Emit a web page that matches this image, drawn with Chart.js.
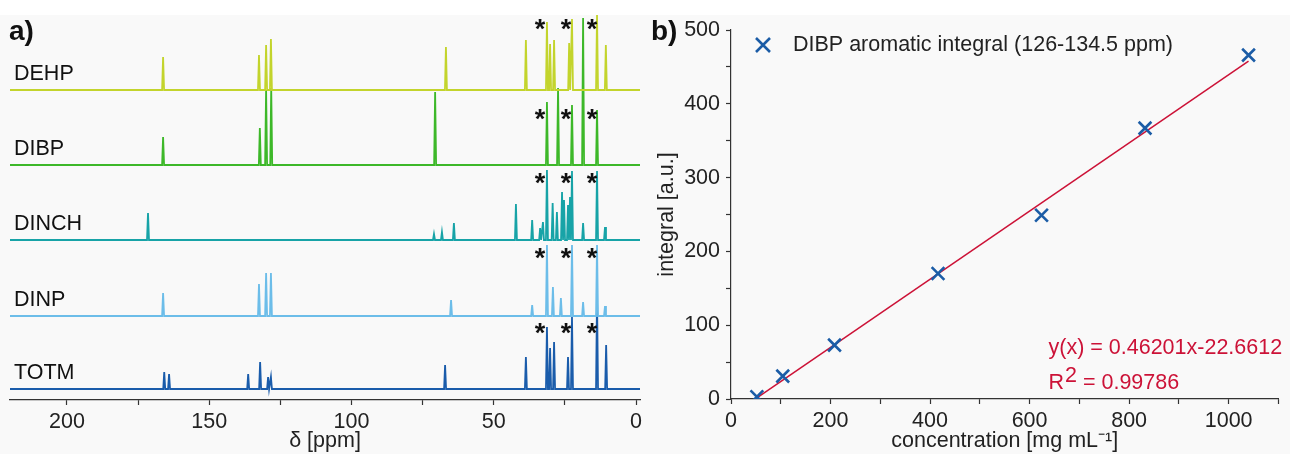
<!DOCTYPE html>
<html>
<head>
<meta charset="utf-8">
<script src="https://cdn.jsdelivr.net/npm/chart.js@4"></script>
<style>
  body { margin: 0; width: 1290px; height: 454px; background: #f9f9f9; position: relative; overflow: hidden;
         font-family: Arial, "Liberation Sans", sans-serif; }
  #strip { position: absolute; left: 0; top: 0; width: 1290px; height: 15px; background: #fff; }
  canvas { position: absolute; top: 0; }
  #specChart { left: 0; }
  #calChart { left: 650px; }
  .tag { position: absolute; font-weight: bold; font-size: 28px; color: #111; line-height: 1; }
</style>
</head>
<body>
<div id="strip"></div>
<canvas id="specChart" width="650" height="454"></canvas>
<canvas id="calChart" width="640" height="454"></canvas>
<div class="tag" style="left:9px;top:17px">a)</div>
<div class="tag" style="left:651px;top:17px">b)</div>
<script>
// ---- panel a: 13C NMR spectra, peaks as [ppm, height] ----
const ppmMin = -1.4, ppmMax = 220;
const compounds = ['DEHP', 'DIBP', 'DINCH', 'DINP', 'TOTM'];
const peaksDEHP = [[166.2, 33], [132.5, 35], [130, 45], [128.3, 51], [66.8, 43], [38.7, 50], [31.3, 68],
  [30.2, 46], [28.8, 50], [23.5, 47], [22.5, 71], [13.7, 75], [10.6, 45]];
const peaksDIBP = [[166.2, 28], [132.2, 37], [130, 75], [128.2, 77], [70.6, 73], [31.3, 63], [27.4, 77],
  [22.5, 60], [18.6, 147], [13.7, 55]];
const peaksDINCH = [[171.5, 27], [71, 6], [68.2, 8], [64, 17], [42.2, 36], [36.5, 20], [33.7, 12], [32.7, 18],
  [31.3, 70], [29.3, 37], [27.8, 28], [26, 48], [25.3, 40], [23.9, 35], [23.2, 43], [22.5, 69], [18.6, 17],
  [13.7, 69], [10.9, 13]];
const peaksDINP = [[166.2, 23], [132.5, 32], [130, 43], [128.3, 43], [65, 16], [36.5, 11], [31.3, 71],
  [29.2, 29], [26.4, 18], [22.5, 71], [18.6, 14], [13.7, 71], [10.9, 10]];
const peaksTOTM = [[165.8, 17], [164.1, 15], [136.3, 15], [132.1, 27], [129.3, 12], [128.3, 12], [67.1, 24],
  [38.7, 32], [31.3, 62], [30.2, 41], [28.8, 47], [23.9, 32], [22.5, 72], [13.7, 92], [10.5, 44]];
const starPpm = [33.7, 24.6, 15.5];

// ---- panel b: calibration ----
const concentration = [52, 104, 208, 416, 624, 832, 1040];
const integral = [3, 31, 73, 170, 249, 367, 466];
const fitX = [52, 1040];
const fitY = [1.4, 457.8];

// layout / styling
const FONT = 'Arial, "Liberation Sans", sans-serif';
const FS = 21.5;
const traceStyle = {
  DEHP:  { peaks: peaksDEHP,  off: 310, color: '#c3d42c', star: 68 },
  DIBP:  { peaks: peaksDIBP,  off: 235, color: '#3db829', star: 53 },
  DINCH: { peaks: peaksDINCH, off: 160, color: '#17a3a7', star: 64 },
  DINP:  { peaks: peaksDINP,  off: 84,  color: '#6cbde9', star: 65 },
  TOTM:  { peaks: peaksTOTM,  off: 11,  color: '#1a5cab', star: 63 }
};

function spectrum(peaks, off) {
  const pts = [{ x: ppmMax, y: off }];
  peaks.slice().sort((a, b) => b[0] - a[0]).forEach(([p, h]) => {
    pts.push({ x: p + 0.35, y: off }, { x: p, y: off + h }, { x: p - 0.35, y: off });
  });
  pts.push({ x: ppmMin, y: off });
  return pts;
}

const specLabels = {
  id: 'specLabels',
  afterDatasetsDraw(chart) {
    const { ctx, chartArea, scales } = chart;
    ctx.save();
    compounds.forEach(name => {
      const t = traceStyle[name];
      ctx.fillStyle = '#111';
      ctx.font = FS + 'px ' + FONT;
      ctx.textAlign = 'left';
      ctx.textBaseline = 'middle';
      ctx.fillText(name, chartArea.left + 4, scales.y.getPixelForValue(t.off + 16));
      ctx.font = 'bold 27px ' + FONT;
      ctx.textAlign = 'center';
      ctx.textBaseline = 'alphabetic';
      starPpm.forEach(p => {
        ctx.fillText('*', scales.x.getPixelForValue(p), scales.y.getPixelForValue(t.off + t.star) + 16);
      });
    });
    ctx.restore();
  }
};

new Chart(document.getElementById('specChart'), {
  type: 'line',
  data: {
    datasets: compounds.map(name => ({
      label: name,
      data: spectrum(traceStyle[name].peaks, traceStyle[name].off),
      borderColor: traceStyle[name].color,
      borderWidth: 1.8,
      pointRadius: 0,
      tension: 0
    }))
  },
  options: {
    responsive: false,
    animation: false,
    devicePixelRatio: 1,
    layout: { padding: { left: 10, right: 10, top: 12, bottom: 0 } },
    plugins: { legend: { display: false }, tooltip: { enabled: false } },
    scales: {
      x: {
        type: 'linear', reverse: true, min: ppmMin, max: ppmMax,
        afterFit: s => { s.height = 54; },
        border: { display: true, color: '#333', width: 1.2 },
        grid: { drawOnChartArea: false, tickLength: 5, tickColor: '#333', tickWidth: 1.2 },
        ticks: {
          stepSize: 25, includeBounds: false, padding: 4, color: '#222', maxRotation: 0, autoSkip: false,
          font: { family: FONT, size: FS },
          callback: v => (v % 50 === 0 ? v : '')
        },
        title: { display: true, text: 'δ [ppm]', color: '#222', font: { family: FONT, size: FS }, padding: 0 }
      },
      y: { display: false, min: 0, max: 388 }
    }
  },
  plugins: [specLabels]
});

const calNotes = {
  id: 'calNotes',
  afterDatasetsDraw(chart) {
    const { ctx, chartArea, scales } = chart;
    ctx.save();
    // legend
    const lx = chartArea.left + 32, ly = chartArea.top + 15;
    ctx.strokeStyle = '#1b5ca6';
    ctx.lineWidth = 2.6;
    ctx.beginPath();
    ctx.moveTo(lx - 7, ly - 7); ctx.lineTo(lx + 7, ly + 7);
    ctx.moveTo(lx + 7, ly - 7); ctx.lineTo(lx - 7, ly + 7);
    ctx.stroke();
    ctx.fillStyle = '#222';
    ctx.font = FS + 'px ' + FONT;
    ctx.textBaseline = 'middle';
    ctx.fillText(chart.data.datasets[0].label, lx + 30, ly);
    // fit equation
    const ex = scales.x.getPixelForValue(638);
    ctx.fillStyle = '#cc1237';
    ctx.fillText('y(x) = 0.46201x-22.6612', ex, scales.y.getPixelForValue(69));
    const ry = scales.y.getPixelForValue(22);
    ctx.fillText('R', ex, ry);
    const rw = ctx.measureText('R').width;
    ctx.fillText('2', ex + rw + 1, ry - 7);
    ctx.fillText(' = 0.99786', ex + rw + 1 + ctx.measureText('2').width, ry);
    ctx.restore();
  }
};

new Chart(document.getElementById('calChart'), {
  type: 'scatter',
  data: {
    datasets: [{
      label: 'DIBP aromatic integral (126-134.5 ppm)',
      data: concentration.map((c, i) => ({ x: c, y: integral[i] })),
      pointStyle: 'crossRot',
      pointRadius: 9,
      borderColor: '#1b5ca6',
      pointBorderWidth: 2.6,
      order: 1
    }, {
      type: 'line',
      label: 'fit',
      data: fitX.map((c, i) => ({ x: c, y: fitY[i] })),
      borderColor: '#cc1237',
      borderWidth: 1.5,
      pointRadius: 0,
      order: 2
    }]
  },
  options: {
    responsive: false,
    animation: false,
    devicePixelRatio: 1,
    layout: { padding: { left: 0, right: 5, top: 30, bottom: 0 } },
    plugins: { legend: { display: false }, tooltip: { enabled: false } },
    scales: {
      x: {
        type: 'linear', min: 0, max: 1100,
        afterFit: s => { s.height = 55; },
        border: { display: true, color: '#333', width: 1.2 },
        grid: { drawOnChartArea: false, tickLength: 5, tickColor: '#333', tickWidth: 1.2 },
        ticks: {
          stepSize: 100, includeBounds: false, padding: 4, color: '#222', maxRotation: 0, autoSkip: false,
          font: { family: FONT, size: FS },
          callback: v => (v % 200 === 0 ? v : '')
        },
        title: { display: true, text: 'concentration [mg mL⁻¹]', color: '#222', font: { family: FONT, size: FS }, padding: 0 }
      },
      y: {
        type: 'linear', min: 0, max: 500,
        afterFit: s => { s.width = 81; },
        border: { display: true, color: '#333', width: 1.2 },
        grid: { drawOnChartArea: false, tickLength: 5, tickColor: '#333', tickWidth: 1.2 },
        ticks: {
          stepSize: 50, includeBounds: false, padding: 6, color: '#222', autoSkip: false,
          font: { family: FONT, size: FS },
          callback: v => (v % 100 === 0 ? v : '')
        },
        title: { display: true, text: 'integral [a.u.]', color: '#222', font: { family: FONT, size: FS }, padding: { top: 4, bottom: 0 } }
      }
    }
  },
  plugins: [calNotes]
});
</script>
</body>
</html>
